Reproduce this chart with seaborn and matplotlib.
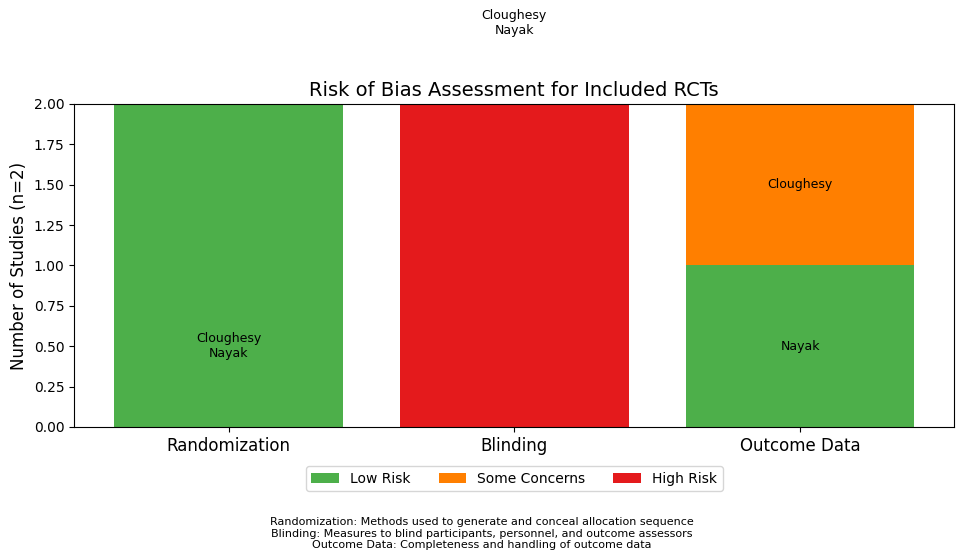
import matplotlib
matplotlib.use('Agg')
import matplotlib.pyplot as plt
import seaborn as sns
import numpy as np

domains = ['Randomization', 'Blinding', 'Outcome Data']
low_risk = [2, 0, 1]
some_concerns = [0, 0, 1]
high_risk = [0, 2, 0]
colors = {'Low Risk': '#4daf4a', 'Some Concerns': '#ff7f00', 'High Risk': '#e41a1c'}

# study labels: (domain index, y position, text)
labels = [(0, 0.5, 'Cloughesy\nNayak'), (1, 2.5, 'Cloughesy\nNayak'),
          (2, 0.5, 'Nayak'), (2, 1.5, 'Cloughesy')]

fig, ax = plt.subplots(figsize=(9.64, 5.53), dpi=100)
bottom = np.zeros(len(domains))
for name, vals in [('Low Risk', low_risk), ('Some Concerns', some_concerns), ('High Risk', high_risk)]:
    ax.bar(domains, vals, bottom=bottom, color=colors[name], label=name, width=0.8)
    bottom += np.array(vals)

for i, y, t in labels:
    ax.text(i, y, t, ha='center', va='center', fontsize=9, clip_on=False)

ax.set_ylim(0, 2)
ax.set_yticks(np.arange(0, 2.01, 0.25))
ax.set_yticklabels([f'{v:.2f}' for v in np.arange(0, 2.01, 0.25)])
ax.set_ylabel('Number of Studies (n=2)', fontsize=12)
ax.set_title('Risk of Bias Assessment for Included RCTs', fontsize=14)
ax.tick_params(axis='x', labelsize=12)
ax.legend(loc='upper center', bbox_to_anchor=(0.5, -0.1), ncol=3)

fig.text(0.5, 0.035, 'Randomization: Methods used to generate and conceal allocation sequence\n'
         'Blinding: Measures to blind participants, personnel, and outcome assessors\n'
         'Outcome Data: Completeness and handling of outcome data',
         ha='center', va='center', fontsize=8)
fig.subplots_adjust(left=0.077, right=0.99, top=0.812, bottom=0.228)
fig.savefig('out.png', dpi=100)
